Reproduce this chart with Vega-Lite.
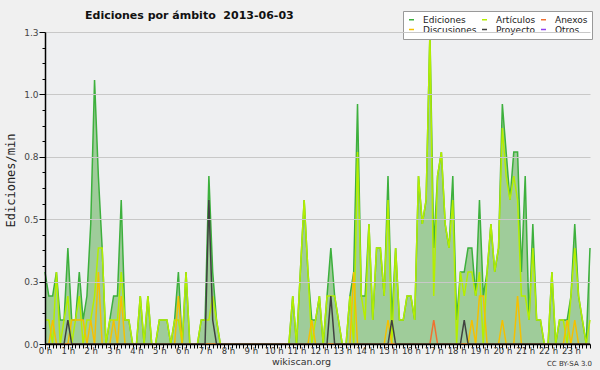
{
"$schema":"https://vega.github.io/schema/vega-lite/v6.json",
"width":545,"height":312,
"autosize":{"type":"none"},
"padding":{"left":45,"top":32,"right":10,"bottom":26},
"background":"#f0f0f0",
"config":{"view":{"fill":"#eeeff1","stroke":null},"font":"DejaVu Sans"},
"title":{"text":"Ediciones por ámbito\u00a0 2013-06-03","anchor":"start","frame":"group","dx":40,"offset":-10,"fontSize":11,"font":"DejaVu Sans","fontWeight":"bold","color":"#111"},
"data":{"values":[
{"t":0,"ed":0.3,"art":0.1,"dis":0,"pro":0,"anx":0},
{"t":10,"ed":0.2,"art":0.1,"dis":0,"pro":0,"anx":0},
{"t":20,"ed":0.2,"art":0,"dis":0.1,"pro":0,"anx":0},
{"t":30,"ed":0.3,"art":0.3,"dis":0,"pro":0,"anx":0},
{"t":40,"ed":0.1,"art":0,"dis":0,"pro":0,"anx":0},
{"t":50,"ed":0.1,"art":0.1,"dis":0,"pro":0,"anx":0},
{"t":60,"ed":0.4,"art":0.2,"dis":0,"pro":0.1,"anx":0},
{"t":70,"ed":0.1,"art":0,"dis":0.1,"pro":0,"anx":0},
{"t":80,"ed":0.1,"art":0.1,"dis":0.1,"pro":0,"anx":0},
{"t":90,"ed":0.3,"art":0.2,"dis":0.1,"pro":0,"anx":0},
{"t":100,"ed":0.1,"art":0,"dis":0.1,"pro":0,"anx":0},
{"t":110,"ed":0.2,"art":0.1,"dis":0,"pro":0,"anx":0},
{"t":120,"ed":0.5,"art":0.1,"dis":0.1,"pro":0,"anx":0},
{"t":130,"ed":1.1,"art":0.2,"dis":0,"pro":0,"anx":0},
{"t":140,"ed":0.7,"art":0.4,"dis":0.3,"pro":0,"anx":0},
{"t":150,"ed":0.4,"art":0.4,"dis":0,"pro":0,"anx":0},
{"t":160,"ed":0,"art":0,"dis":0,"pro":0,"anx":0},
{"t":170,"ed":0.1,"art":0.1,"dis":0,"pro":0,"anx":0},
{"t":180,"ed":0.2,"art":0.1,"dis":0.1,"pro":0,"anx":0},
{"t":190,"ed":0.2,"art":0.1,"dis":0,"pro":0,"anx":0},
{"t":200,"ed":0.6,"art":0.3,"dis":0.2,"pro":0,"anx":0},
{"t":210,"ed":0.1,"art":0.1,"dis":0,"pro":0,"anx":0},
{"t":220,"ed":0.1,"art":0.1,"dis":0,"pro":0,"anx":0},
{"t":230,"ed":0,"art":0,"dis":0,"pro":0,"anx":0},
{"t":240,"ed":0,"art":0,"dis":0,"pro":0,"anx":0},
{"t":250,"ed":0.2,"art":0.2,"dis":0,"pro":0,"anx":0},
{"t":260,"ed":0,"art":0,"dis":0,"pro":0,"anx":0},
{"t":270,"ed":0.2,"art":0.2,"dis":0,"pro":0,"anx":0},
{"t":280,"ed":0,"art":0,"dis":0,"pro":0,"anx":0},
{"t":290,"ed":0,"art":0,"dis":0,"pro":0,"anx":0},
{"t":300,"ed":0.1,"art":0.1,"dis":0,"pro":0,"anx":0},
{"t":310,"ed":0.1,"art":0.1,"dis":0,"pro":0,"anx":0},
{"t":320,"ed":0.1,"art":0.1,"dis":0,"pro":0,"anx":0},
{"t":330,"ed":0,"art":0,"dis":0,"pro":0,"anx":0},
{"t":340,"ed":0.1,"art":0.1,"dis":0,"pro":0,"anx":0},
{"t":350,"ed":0.3,"art":0.1,"dis":0.2,"pro":0,"anx":0},
{"t":360,"ed":0,"art":0,"dis":0,"pro":0,"anx":0},
{"t":370,"ed":0.3,"art":0.3,"dis":0,"pro":0,"anx":0},
{"t":380,"ed":0,"art":0,"dis":0,"pro":0,"anx":0},
{"t":390,"ed":0,"art":0,"dis":0,"pro":0,"anx":0},
{"t":400,"ed":0,"art":0,"dis":0,"pro":0,"anx":0},
{"t":410,"ed":0.1,"art":0.1,"dis":0,"pro":0,"anx":0},
{"t":420,"ed":0.1,"art":0.1,"dis":0,"pro":0,"anx":0},
{"t":430,"ed":0.7,"art":0.1,"dis":0,"pro":0.6,"anx":0},
{"t":440,"ed":0.3,"art":0.2,"dis":0,"pro":0.1,"anx":0},
{"t":450,"ed":0.1,"art":0.1,"dis":0,"pro":0,"anx":0},
{"t":460,"ed":0,"art":0,"dis":0,"pro":0,"anx":0},
{"t":470,"ed":0,"art":0,"dis":0,"pro":0,"anx":0},
{"t":480,"ed":0,"art":0,"dis":0,"pro":0,"anx":0},
{"t":490,"ed":0,"art":0,"dis":0,"pro":0,"anx":0},
{"t":500,"ed":0,"art":0,"dis":0,"pro":0,"anx":0},
{"t":510,"ed":0,"art":0,"dis":0,"pro":0,"anx":0},
{"t":520,"ed":0,"art":0,"dis":0,"pro":0,"anx":0},
{"t":530,"ed":0,"art":0,"dis":0,"pro":0,"anx":0},
{"t":540,"ed":0,"art":0,"dis":0,"pro":0,"anx":0},
{"t":550,"ed":0,"art":0,"dis":0,"pro":0,"anx":0},
{"t":560,"ed":0,"art":0,"dis":0,"pro":0,"anx":0},
{"t":570,"ed":0,"art":0,"dis":0,"pro":0,"anx":0},
{"t":580,"ed":0,"art":0,"dis":0,"pro":0,"anx":0},
{"t":590,"ed":0,"art":0,"dis":0,"pro":0,"anx":0},
{"t":600,"ed":0,"art":0,"dis":0,"pro":0,"anx":0},
{"t":610,"ed":0,"art":0,"dis":0,"pro":0,"anx":0},
{"t":620,"ed":0,"art":0,"dis":0,"pro":0,"anx":0},
{"t":630,"ed":0,"art":0,"dis":0,"pro":0,"anx":0},
{"t":640,"ed":0,"art":0,"dis":0,"pro":0,"anx":0},
{"t":650,"ed":0.2,"art":0.2,"dis":0,"pro":0,"anx":0},
{"t":660,"ed":0,"art":0,"dis":0,"pro":0,"anx":0},
{"t":670,"ed":0.3,"art":0.3,"dis":0,"pro":0,"anx":0},
{"t":680,"ed":0.6,"art":0.6,"dis":0,"pro":0,"anx":0},
{"t":690,"ed":0.3,"art":0.3,"dis":0,"pro":0,"anx":0},
{"t":700,"ed":0.1,"art":0,"dis":0.1,"pro":0,"anx":0},
{"t":710,"ed":0.1,"art":0.1,"dis":0,"pro":0,"anx":0},
{"t":720,"ed":0.2,"art":0.2,"dis":0,"pro":0,"anx":0},
{"t":730,"ed":0,"art":0,"dis":0,"pro":0,"anx":0},
{"t":740,"ed":0.2,"art":0.2,"dis":0,"pro":0,"anx":0},
{"t":750,"ed":0.4,"art":0.2,"dis":0,"pro":0.2,"anx":0},
{"t":760,"ed":0.2,"art":0.2,"dis":0,"pro":0,"anx":0},
{"t":770,"ed":0.1,"art":0.1,"dis":0,"pro":0,"anx":0},
{"t":780,"ed":0,"art":0,"dis":0,"pro":0,"anx":0},
{"t":790,"ed":0,"art":0,"dis":0,"pro":0,"anx":0},
{"t":800,"ed":0.2,"art":0.2,"dis":0,"pro":0,"anx":0},
{"t":810,"ed":0.3,"art":0,"dis":0.3,"pro":0,"anx":0},
{"t":820,"ed":1.0,"art":0.8,"dis":0,"pro":0,"anx":0},
{"t":830,"ed":0.2,"art":0.2,"dis":0,"pro":0,"anx":0},
{"t":840,"ed":0.2,"art":0.1,"dis":0,"pro":0,"anx":0},
{"t":850,"ed":0.5,"art":0.5,"dis":0,"pro":0,"anx":0},
{"t":860,"ed":0.1,"art":0.1,"dis":0,"pro":0,"anx":0},
{"t":870,"ed":0.4,"art":0.4,"dis":0,"pro":0,"anx":0},
{"t":880,"ed":0.4,"art":0.4,"dis":0,"pro":0,"anx":0},
{"t":890,"ed":0.2,"art":0.2,"dis":0,"pro":0,"anx":0},
{"t":900,"ed":0.7,"art":0.6,"dis":0.1,"pro":0,"anx":0},
{"t":910,"ed":0.1,"art":0,"dis":0,"pro":0.1,"anx":0},
{"t":920,"ed":0.4,"art":0.4,"dis":0,"pro":0,"anx":0},
{"t":930,"ed":0.1,"art":0.1,"dis":0,"pro":0,"anx":0},
{"t":940,"ed":0.1,"art":0.1,"dis":0,"pro":0,"anx":0},
{"t":950,"ed":0.2,"art":0.2,"dis":0,"pro":0,"anx":0},
{"t":960,"ed":0.2,"art":0.2,"dis":0,"pro":0,"anx":0},
{"t":970,"ed":0.1,"art":0.1,"dis":0,"pro":0,"anx":0},
{"t":980,"ed":0.7,"art":0.7,"dis":0,"pro":0,"anx":0},
{"t":990,"ed":0.5,"art":0.5,"dis":0,"pro":0,"anx":0},
{"t":1000,"ed":0.6,"art":0.6,"dis":0,"pro":0,"anx":0},
{"t":1010,"ed":1.3,"art":1.3,"dis":0,"pro":0,"anx":0},
{"t":1020,"ed":0.4,"art":0.2,"dis":0,"pro":0,"anx":0.1},
{"t":1030,"ed":0.7,"art":0.7,"dis":0,"pro":0,"anx":0},
{"t":1040,"ed":0.8,"art":0.8,"dis":0,"pro":0,"anx":0},
{"t":1050,"ed":0.5,"art":0.5,"dis":0,"pro":0,"anx":0},
{"t":1060,"ed":0.4,"art":0.4,"dis":0,"pro":0,"anx":0},
{"t":1070,"ed":0.7,"art":0.6,"dis":0,"pro":0,"anx":0},
{"t":1080,"ed":0.1,"art":0,"dis":0,"pro":0,"anx":0},
{"t":1090,"ed":0.3,"art":0.3,"dis":0,"pro":0,"anx":0},
{"t":1100,"ed":0.3,"art":0.2,"dis":0,"pro":0.1,"anx":0},
{"t":1110,"ed":0.4,"art":0.3,"dis":0,"pro":0,"anx":0},
{"t":1120,"ed":0.4,"art":0.3,"dis":0.1,"pro":0,"anx":0},
{"t":1130,"ed":0.2,"art":0.2,"dis":0,"pro":0,"anx":0},
{"t":1140,"ed":0.6,"art":0.3,"dis":0.2,"pro":0,"anx":0},
{"t":1150,"ed":0.2,"art":0,"dis":0.2,"pro":0,"anx":0},
{"t":1160,"ed":0.3,"art":0.3,"dis":0,"pro":0,"anx":0},
{"t":1170,"ed":0.5,"art":0.5,"dis":0,"pro":0,"anx":0},
{"t":1180,"ed":0.3,"art":0.3,"dis":0,"pro":0,"anx":0},
{"t":1190,"ed":0.4,"art":0.4,"dis":0,"pro":0,"anx":0},
{"t":1200,"ed":1.0,"art":0.9,"dis":0.1,"pro":0,"anx":0},
{"t":1210,"ed":0.8,"art":0.7,"dis":0,"pro":0,"anx":0},
{"t":1220,"ed":0.6,"art":0.6,"dis":0,"pro":0,"anx":0},
{"t":1230,"ed":0.8,"art":0.7,"dis":0,"pro":0,"anx":0},
{"t":1240,"ed":0.8,"art":0.6,"dis":0.2,"pro":0,"anx":0},
{"t":1250,"ed":0.3,"art":0.2,"dis":0,"pro":0,"anx":0},
{"t":1260,"ed":0.7,"art":0.2,"dis":0,"pro":0,"anx":0},
{"t":1270,"ed":0.1,"art":0.1,"dis":0,"pro":0,"anx":0},
{"t":1280,"ed":0.5,"art":0.4,"dis":0,"pro":0,"anx":0},
{"t":1290,"ed":0.1,"art":0.1,"dis":0,"pro":0,"anx":0},
{"t":1300,"ed":0.1,"art":0.1,"dis":0,"pro":0,"anx":0},
{"t":1310,"ed":0,"art":0,"dis":0,"pro":0,"anx":0},
{"t":1320,"ed":0,"art":0,"dis":0,"pro":0,"anx":0},
{"t":1330,"ed":0.3,"art":0.3,"dis":0,"pro":0,"anx":0},
{"t":1340,"ed":0,"art":0,"dis":0,"pro":0,"anx":0},
{"t":1350,"ed":0.1,"art":0.1,"dis":0,"pro":0,"anx":0},
{"t":1360,"ed":0.1,"art":0.1,"dis":0,"pro":0,"anx":0},
{"t":1370,"ed":0.1,"art":0,"dis":0.1,"pro":0,"anx":0},
{"t":1380,"ed":0.2,"art":0.2,"dis":0,"pro":0,"anx":0},
{"t":1390,"ed":0.5,"art":0.4,"dis":0.1,"pro":0,"anx":0},
{"t":1400,"ed":0.2,"art":0.2,"dis":0,"pro":0,"anx":0},
{"t":1410,"ed":0.1,"art":0.1,"dis":0,"pro":0,"anx":0},
{"t":1420,"ed":0,"art":0,"dis":0,"pro":0,"anx":0},
{"t":1430,"ed":0.4,"art":0.1,"dis":0,"pro":0,"anx":0}
]},
"encoding":{
 "x":{"field":"t","type":"quantitative","scale":{"domain":[0,1430],"nice":false,"zero":false},
  "axis":{"values":[0,10,20,30,40,50,60,70,80,90,100,110,120,130,140,150,160,170,180,190,200,210,220,230,240,250,260,270,280,290,300,310,320,330,340,350,360,370,380,390,400,410,420,430,440,450,460,470,480,490,500,510,520,530,540,550,560,570,580,590,600,610,620,630,640,650,660,670,680,690,700,710,720,730,740,750,760,770,780,790,800,810,820,830,840,850,860,870,880,890,900,910,920,930,940,950,960,970,980,990,1000,1010,1020,1030,1040,1050,1060,1070,1080,1090,1100,1110,1120,1130,1140,1150,1160,1170,1180,1190,1200,1210,1220,1230,1240,1250,1260,1270,1280,1290,1300,1310,1320,1330,1340,1350,1360,1370,1380,1390,1400,1410,1420,1430],
   "labelExpr":"datum.value % 60 === 0 ? (datum.value / 60) + ' h' : ''",
   "labelOverlap":false,"labelFlush":false,"labelFontSize":8.5,"labelColor":"#333","labelPadding":-3,
   "tickSize":{"condition":{"test":"datum.value % 60 === 0","value":5},"value":4},
   "tickColor":"#000","tickWidth":1,"domainColor":"#000","domainWidth":1.5,"grid":false,"zindex":1,
   "title":"wikiscan.org","titleFontSize":9.5,"titleFontWeight":"normal","titleColor":"#333","titleX":256,"titleY":20,"titleBaseline":"alphabetic","titleAlign":"center"}}
},
"layer":[
 {"mark":{"type":"area","color":"#9fcc9a","opacity":1},
  "encoding":{"y":{"field":"ed","type":"quantitative","scale":{"domain":[0,1.3],"nice":false},
   "axis":{"values":[0,0.065,0.13,0.195,0.26,0.325,0.39,0.455,0.52,0.585,0.65,0.715,0.78,0.845,0.91,0.975,1.04,1.105,1.17,1.235,1.3],
    "labelExpr":"round(datum.value/0.065) % 4 === 0 ? format(datum.value, '.1f') : ''",
    "labelOverlap":false,"labelFontSize":9,"labelColor":"#444","labelPadding":1,
    "tickSize":{"condition":{"test":"round(datum.value/0.065) % 4 === 0","value":6},"value":3},
    "tickColor":"#000","domainColor":"#000","domainWidth":1.5,
    "grid":true,"gridColor":"#c8c8c8","gridOpacity":{"condition":{"test":"round(datum.value/0.065) % 4 === 0","value":1},"value":0},
    "zindex":1,
    "title":"Ediciones/min","titleFont":"DejaVu Sans Mono","titleFontSize":12,"titleFontWeight":"normal","titleColor":"#222","titleX":-35,"titleY":148,"titleBaseline":"middle","titleAlign":"center"}}}},
 {"mark":{"type":"line","strokeWidth":1.5},
  "encoding":{"y":{"field":"ed","type":"quantitative",
   "axis":{"orient":"right","domain":false,"ticks":false,"labels":false,"grid":false,"title":"CC BY-SA 3.0","titleAngle":0,"titleFontSize":7,"titleFontWeight":"normal","titleColor":"#333","titleX":-21,"titleY":333,"titleAlign":"center","titleBaseline":"alphabetic"}},
   "color":{"datum":"Ediciones","type":"nominal",
    "scale":{"domain":["Ediciones","Artículos","Anexos","Discusiones","Proyecto","Otros"],"range":["#3db03d","#b4ee00","#f07030","#f5c000","#404040","#9040f0"]},
    "legend":{"orient":"none","legendX":358,"legendY":-21,"direction":"horizontal","columns":3,"title":null,"symbolType":"stroke","symbolSize":25,"symbolStrokeWidth":1.5,"labelFontSize":9,"labelFont":"DejaVu Sans","labelColor":"#222","labelOffset":7,"fillColor":"#ffffff","strokeColor":"#999","padding":4,"rowPadding":0,"columnPadding":2}}}},
 {"mark":{"type":"line","strokeWidth":1.5},
  "encoding":{"y":{"field":"art","type":"quantitative","axis":null},"color":{"datum":"Artículos","type":"nominal"}}},
 {"mark":{"type":"line","strokeWidth":1.5},
  "encoding":{"y":{"field":"dis","type":"quantitative","axis":null},"color":{"datum":"Discusiones","type":"nominal"}}},
 {"mark":{"type":"line","strokeWidth":1.5},
  "encoding":{"y":{"field":"anx","type":"quantitative","axis":null},"color":{"datum":"Anexos","type":"nominal"}}},
 {"mark":{"type":"line","strokeWidth":1.5},
  "encoding":{"y":{"field":"pro","type":"quantitative","axis":null},"color":{"datum":"Proyecto","type":"nominal"}}}
],
"resolve":{"axis":{"y":"independent"}}
}
